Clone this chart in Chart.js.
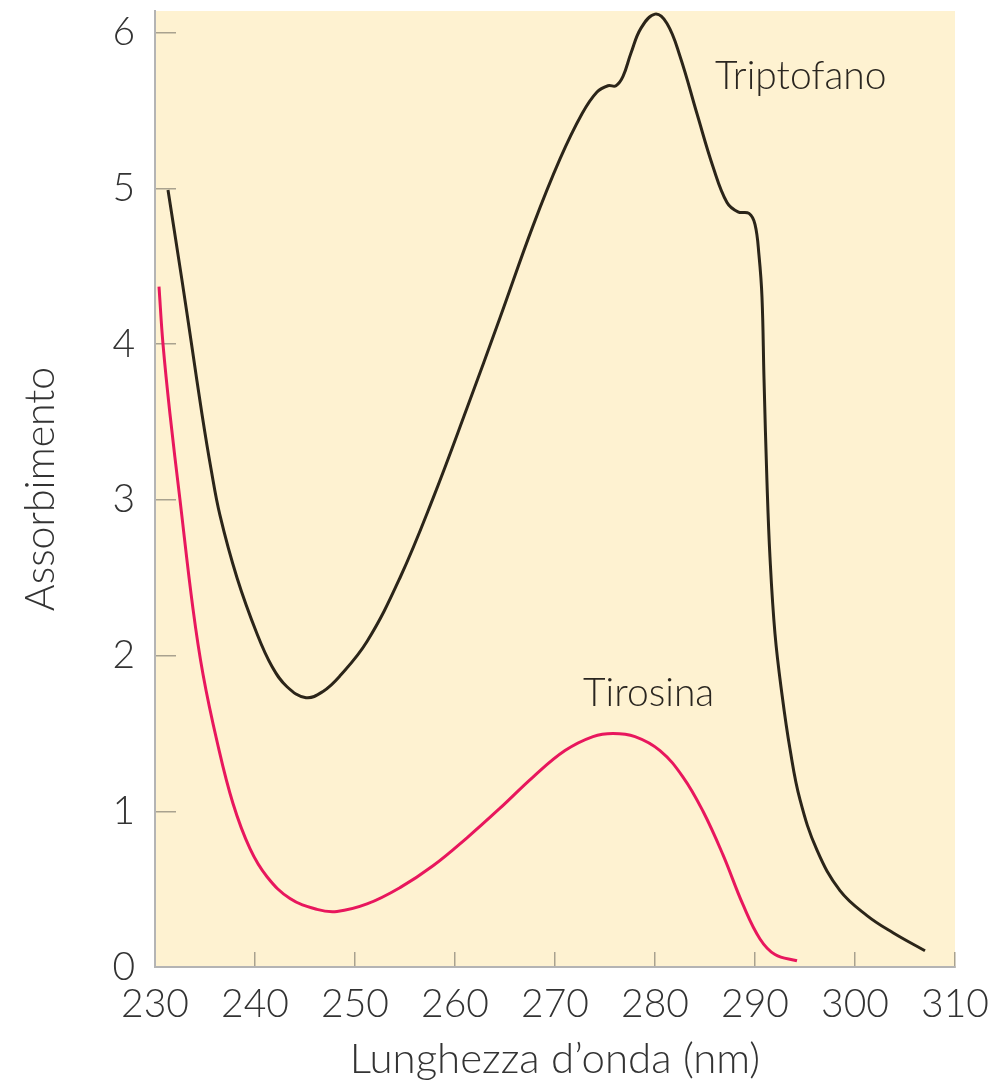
<!DOCTYPE html>
<html>
<head>
<meta charset="utf-8">
<script src="https://cdn.jsdelivr.net/npm/chart.js@4.4.1/dist/chart.umd.min.js"></script>
<style>
  html, body { margin: 0; padding: 0; background: #ffffff; }
  #wrap { width: 998px; height: 1083px; position: relative; }
</style>
</head>
<body>
<div id="wrap"><canvas id="c" width="998" height="1083"></canvas></div>
<script>
// ---- data ----
const tryptophanWavelength = [231.3, 232.7, 233.7, 234.7, 235.6, 236.5, 238.2, 240.2, 241.7, 243.2, 245.1, 246.8, 248.5, 251.2, 254.5, 257.8, 261.2, 264.5, 267.8, 270.5, 272.7, 274.2, 275.3, 276.1, 276.8, 277.6, 278.6, 280.0, 281.2, 282.5, 284.2, 285.8, 287.2, 288.3, 289.4, 290.0, 290.4, 290.7, 290.9, 291.2, 291.5, 292.0, 292.7, 293.5, 294.5, 296.2, 298.5, 301.2, 303.8, 307.0];
const tryptophanAbs = [4.99, 4.41, 3.98, 3.55, 3.20, 2.90, 2.50, 2.14, 1.93, 1.80, 1.73, 1.77, 1.87, 2.09, 2.50, 3.01, 3.59, 4.17, 4.76, 5.19, 5.48, 5.62, 5.66, 5.66, 5.72, 5.87, 6.03, 6.12, 6.06, 5.85, 5.48, 5.14, 4.91, 4.85, 4.84, 4.77, 4.57, 4.30, 3.78, 3.11, 2.63, 2.14, 1.75, 1.40, 1.075, 0.75, 0.49, 0.33, 0.22, 0.104];

const tyrosineWavelength = [230.4, 230.8, 231.5, 232.5, 233.8, 234.8, 236.2, 237.8, 239.5, 241.2, 243.5, 246.2, 248.2, 251.2, 254.5, 257.8, 261.2, 264.5, 267.8, 271.0, 273.8, 275.8, 278.0, 280.5, 282.8, 284.8, 286.8, 288.8, 290.5, 292.0, 294.2];
const tyrosineAbs = [4.37, 4.00, 3.55, 3.00, 2.30, 1.88, 1.45, 1.05, 0.76, 0.58, 0.44, 0.37, 0.357, 0.405, 0.51, 0.65, 0.83, 1.02, 1.22, 1.39, 1.48, 1.50, 1.48, 1.39, 1.22, 1.00, 0.72, 0.40, 0.18, 0.08, 0.04];

const xTickValues = [230, 240, 250, 260, 270, 280, 290, 300, 310];
const yTickValues = [0, 1, 2, 3, 4, 5, 6];
const seriesLabels = ['Triptofano', 'Tirosina'];
const labelAnchors = [[286.0, 5.72], [272.8, 1.76]]; // data coords of the curve labels
const xTitle = 'Lunghezza d\u2019onda (nm)';
const yTitle = 'Assorbimento';

function pts(xs, ys) { return xs.map((x, i) => ({ x: x, y: ys[i] })); }

const FONT = 'Lato, "Open Sans", sans-serif';
const TEXT = '#333333';

const bgPlugin = {
  id: 'plotBg',
  beforeDraw(chart) {
    const a = chart.chartArea, ctx = chart.ctx;
    ctx.save();
    ctx.fillStyle = '#fef2d1';
    ctx.fillRect(a.left, a.top, a.right - a.left, a.bottom - a.top);
    ctx.restore();
  }
};

const labelPlugin = {
  id: 'curveLabels',
  afterDatasetsDraw(chart) {
    const ctx = chart.ctx, xs = chart.scales.x, ys = chart.scales.y;
    ctx.save();
    ctx.font = '300 39px ' + FONT;
    ctx.fillStyle = '#2a2620';
    ctx.textAlign = 'left';
    ctx.textBaseline = 'middle';
    seriesLabels.forEach((t, i) => {
      ctx.fillText(t, xs.getPixelForValue(labelAnchors[i][0]), ys.getPixelForValue(labelAnchors[i][1]));
    });
    ctx.restore();
  }
};

function zeroPad(s) { s.paddingTop = 0; s.paddingBottom = 0; s.paddingLeft = 0; s.paddingRight = 0; }

new Chart(document.getElementById('c'), {
  type: 'line',
  data: {
    datasets: [
      { label: seriesLabels[0], data: pts(tryptophanWavelength, tryptophanAbs), borderColor: '#2b2519', borderWidth: 3, pointRadius: 0, fill: false, tension: 0.4 },
      { label: seriesLabels[1], data: pts(tyrosineWavelength, tyrosineAbs), borderColor: '#e8175d', borderWidth: 3, pointRadius: 0, fill: false, tension: 0.4 }
    ]
  },
  options: {
    responsive: false,
    animation: false,
    devicePixelRatio: 1,
    layout: { padding: { left: 0, right: 43, top: 11, bottom: 0 } },
    plugins: { legend: { display: false }, tooltip: { enabled: false } },
    scales: {
      x: {
        type: 'linear', min: 230, max: 310,
        afterBuildTicks(s) { s.ticks = xTickValues.map(v => ({ value: v })); },
        afterFit(s) { s.height = 116; zeroPad(s); },
        ticks: { font: { family: FONT, size: 39, weight: 300 }, color: TEXT, padding: 29, maxRotation: 0, autoSkip: false },
        grid: { drawOnChartArea: false, tickLength: -15, color: '#a9a28f', lineWidth: 1.5 },
        border: { color: '#b4b4b4', width: 2 },
        title: { display: true, text: xTitle, font: { family: FONT, size: 42, weight: 300 }, color: TEXT, padding: { top: 0, bottom: -2 } }
      },
      y: {
        type: 'linear', min: 0, max: 6.14,
        afterBuildTicks(s) { s.ticks = yTickValues.map(v => ({ value: v })); },
        afterFit(s) { s.width = 155; zeroPad(s); },
        ticks: { font: { family: FONT, size: 39, weight: 300 }, color: TEXT, padding: 41, autoSkip: false },
        grid: { drawOnChartArea: false, tickLength: -21, color: '#a9a28f', lineWidth: 1.5 },
        border: { color: '#b4b4b4', width: 2 },
        title: { display: true, text: yTitle, font: { family: FONT, size: 41, weight: 300 }, color: TEXT, padding: { top: 16, bottom: 0 } }
      }
    }
  },
  plugins: [bgPlugin, labelPlugin]
});
</script>
</body>
</html>
